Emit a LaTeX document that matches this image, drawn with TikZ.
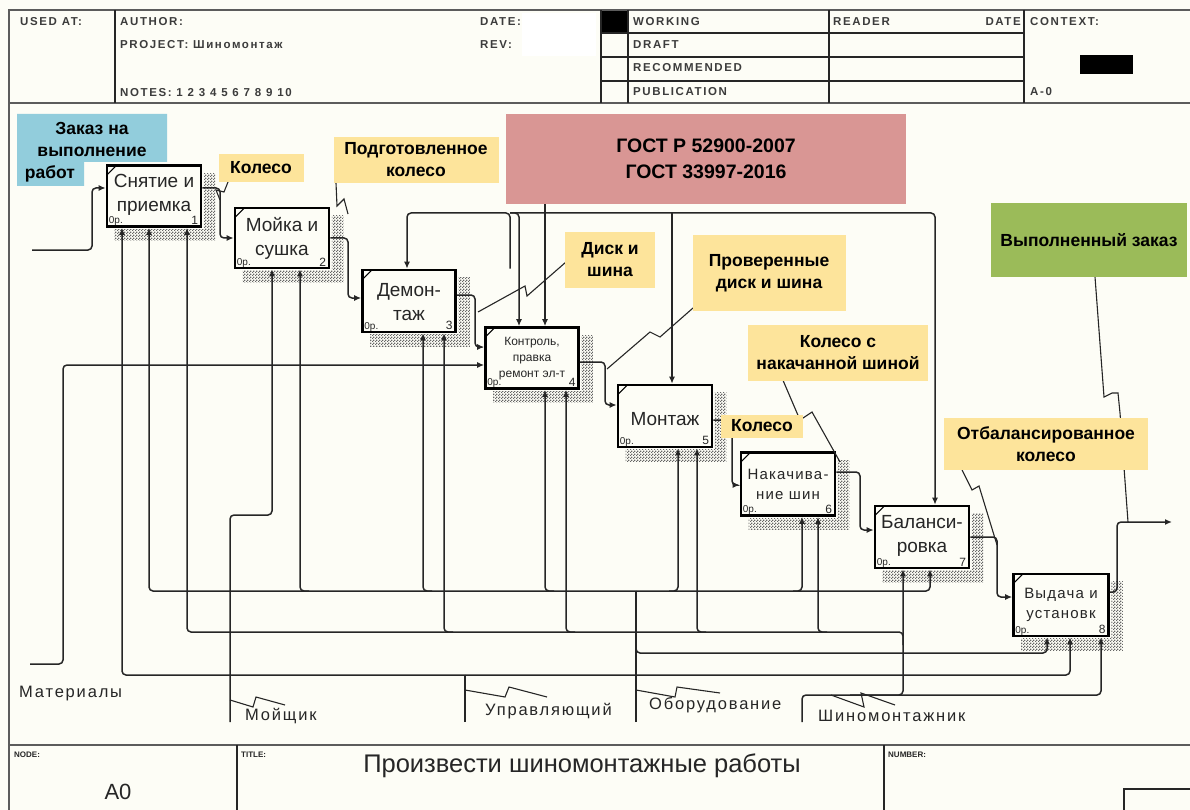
\documentclass[tikz,border=0pt]{standalone}
\usepackage{fontspec}
\setmainfont{Liberation Sans}
\newfontfamily\hdrfont[LetterSpace=14]{Liberation Sans}
\newfontfamily\lblfont[LetterSpace=11]{Liberation Sans}
\newfontfamily\spacedfont[LetterSpace=8]{Liberation Sans}
\usetikzlibrary{arrows.meta,patterns}

% dotted checker used for the box shadows
\pgfdeclarepatternformonly{checkdots}{\pgfqpoint{0pt}{0pt}}{\pgfqpoint{3pt}{3pt}}{\pgfqpoint{3pt}{3pt}}{%
  \pgfpathrectangle{\pgfqpoint{0pt}{0pt}}{\pgfqpoint{1.5pt}{1.5pt}}%
  \pgfpathrectangle{\pgfqpoint{1.5pt}{1.5pt}}{\pgfqpoint{1.5pt}{1.5pt}}%
  \pgfusepath{fill}}

\definecolor{paper}{RGB}{253,253,246}
\definecolor{ink}{RGB}{38,38,38}
\definecolor{noteyellow}{RGB}{253,228,155}
\definecolor{noteblue}{RGB}{146,205,220}
\definecolor{notered}{RGB}{217,150,148}
\definecolor{notegreen}{RGB}{155,187,89}

\tikzset{
  border/.style={draw=ink!75, line width=2pt},
  cell/.style={draw=ink, line width=1.3pt},
  hdr/.style={anchor=west, inner sep=0pt, text=ink!90, font=\hdrfont\bfseries\fontsize{11.5}{13}\selectfont},
  tinyhdr/.style={anchor=north west, inner sep=0pt, text=ink, font=\bfseries\fontsize{8}{9}\selectfont},
  act/.style={draw=black, line width=2.6pt, fill=paper, inner sep=0pt},
  acttext/.style={inner sep=0pt, align=center, text=ink, font=\fontsize{19}{24}\selectfont},
  cost/.style={anchor=south west, inner sep=0pt, text=ink, font=\fontsize{10}{11}\selectfont},
  num/.style={anchor=south east, inner sep=0pt, text=ink, font=\fontsize{12}{12}\selectfont},
  shade/.style={pattern=checkdots, pattern color=black!60},
  flow/.style={draw=ink, line width=1.5pt, rounded corners=4pt},
  arr/.style={flow, -{Latex[length=7pt,width=6pt]}},
  squig/.style={draw=ink, line width=1.1pt},
  note/.style={inner sep=0pt, align=center, text=black, font=\bfseries\fontsize{17.5}{22}\selectfont},
  arrlbl/.style={anchor=west, inner sep=0pt, text=ink, font=\lblfont\fontsize{16.5}{18}\selectfont},
}

\begin{document}
\begin{tikzpicture}[x=1pt,y=-1pt]
\useasboundingbox (0,0) rectangle (1190,810);
\fill[paper] (0,0) rectangle (1190,810);

% ---------- title block ----------
\fill[white] (522,13) rectangle (596,56);
\fill[black] (601,10) rectangle (628,33);
\fill[black] (1080,55) rectangle (1133,74);
\draw[border] (1190,10) -- (9,10) -- (9,810);
\draw[border] (9,103) -- (1190,103);
\draw[cell] (115,10) -- (115,103) (601,10) -- (601,103) (628,10) -- (628,103)
            (829,10) -- (829,103) (1024,10) -- (1024,103);
\draw[cell] (601,33) -- (1024,33) (601,57) -- (1024,57) (601,81) -- (1024,81);

\node[hdr] (usedat) at (20,22) {USED AT:};
\node[hdr] (author) at (120,22) {AUTHOR:};
\node[hdr] (project) at (120,45) {PROJECT: Шиномонтаж};
\node[hdr] (notes) at (120,93) {NOTES: 1 2 3 4 5 6 7 8 9 10};
\node[hdr] (date) at (480,22) {DATE:};
\node[hdr] (rev) at (480,45) {REV:};
\node[hdr] (working) at (633,22) {WORKING};
\node[hdr] (draft) at (633,45) {DRAFT};
\node[hdr] (recom) at (633,68) {RECOMMENDED};
\node[hdr] (publ) at (633,92) {PUBLICATION};
\node[hdr] (reader) at (833,22) {READER};
\node[hdr, anchor=east] (rdate) at (1021,22) {DATE};
\node[hdr] (context) at (1030,22) {CONTEXT:};
\node[hdr] (ctxnode) at (1030,92) {A-0};

% ---------- footer ----------
\draw[border] (9,745) -- (1190,745);
\draw[cell] (237,745) -- (237,810) (884,745) -- (884,810) (1124,810) -- (1124,789) -- (1190,789);
\node[tinyhdr] (nodelbl) at (14,752) {NODE:};
\node[inner sep=0pt, text=ink, font=\fontsize{22}{24}\selectfont] (nodeval) at (118,792) {A0};
\node[tinyhdr] (titlelbl) at (241,752) {TITLE:};
\node[inner sep=0pt, text=ink, font=\fontsize{25.5}{27}\selectfont] (title) at (582,766) {Произвести шиномонтажные работы};
\node[tinyhdr] (numlbl) at (888,752) {NUMBER:};

% ---------- activity boxes ----------
\node[act, minimum width=94pt, minimum height=61pt] (b1) at (154,196) {};
\node[act, minimum width=94pt, minimum height=60pt] (b2) at (282,238) {};
\node[act, minimum width=93pt, minimum height=62pt] (b3) at (409,301) {};
\node[act, minimum width=93pt, minimum height=61pt] (b4) at (532,358) {};
\node[act, minimum width=94pt, minimum height=62pt] (b5) at (665,416) {};
\node[act, minimum width=94pt, minimum height=63pt] (b6) at (788,484) {};
\node[act, minimum width=94pt, minimum height=62pt] (b7) at (922,537) {};
\node[act, minimum width=95pt, minimum height=62pt] (b8) at (1061,605) {};

\node[acttext] (t1) at ([yshift=1pt]b1.center) {Снятие и\\приемка};
\node[acttext] (t2) at ([yshift=0pt]b2.center) {Мойка и\\сушка};
\node[acttext] (t3) at ([yshift=-1pt]b3.center) {Демон-\\таж};
\node[acttext, font=\fontsize{12}{16}\selectfont] (t4) at ([yshift=-1pt]b4.center) {Контроль,\\правка\\ремонт эл-т};
\node[acttext] (t5) at ([yshift=-3pt]b5.center) {Монтаж};
\node[acttext, font=\spacedfont\fontsize{15}{20}\selectfont] (t6) at ([yshift=0pt]b6.center) {Накачива-\\ние шин};
\node[acttext] (t7) at ([yshift=1pt]b7.center) {Баланси-\\ровка};
\node[acttext, font=\spacedfont\fontsize{15}{20}\selectfont] (t8) at ([yshift=0pt]b8.center) {Выдача и\\установк};

\foreach \b/\n in {b1/1,b2/2,b3/3,b4/4,b5/5,b6/6,b7/7,b8/8}{
  \node[cost] (c\n) at ([shift={(3,-2)}]\b.south west) {0р.};
  \node[num] (n\n) at ([shift={(-4,-3)}]\b.south east) {\n};
  \draw[black, line width=1pt] ([shift={(2,10)}]\b.north west) -- ([shift={(10,2)}]\b.north west);
  \fill[shade] ([shift={(1.5,9)}]\b.north east) rectangle ([shift={(13,13)}]\b.south east);
  \fill[shade] ([shift={(9,1.5)}]\b.south west) rectangle ([shift={(1.5,13)}]\b.south east);
}

% ---------- free ends on the border ----------
\coordinate (inOrder) at (32,250);
\coordinate (inMat) at (30,664);
\coordinate (mWasher) at (230,722);
\coordinate (mManager) at (465,722);
\coordinate (mEquip) at (636,722);
\coordinate (mFitter) at (802,722);
\coordinate (outDone) at (1172,522);

% ---------- inputs and outputs ----------
\draw[arr] (inOrder) -- (92,250) -- (92,188) -- (b1.west |- 0,188);
\draw[arr] (b1.east |- 0,188) -- (220,188) -- (220,238) -- (b2.west |- 0,238);
\draw[arr] (b2.east |- 0,238) -- (348,238) -- (348,298) -- (b3.west |- 0,298);
\draw[arr] (b3.east |- 0,295) -- (475,295) -- (475,347) -- (b4.west |- 0,347);
\draw[arr] (inMat) -- (63,664) -- (63,365) -- (b4.west |- 0,365);
\draw[arr] (b4.east |- 0,362) -- (605,362) -- (605,405) -- (b5.west |- 0,405);
\draw[arr] (b5.east |- 0,420) -- (732,420) -- (732,485) -- (b6.west |- 0,485);
\draw[arr] (b6.east |- 0,472) -- (860,472) -- (860,530) -- (b7.west |- 0,530);
\draw[arr] (b7.east |- 0,537) -- (997,537) -- (997,597) -- (b8.west |- 0,597);
\draw[arr] (b8.east |- 0,592) -- (1117,592) -- (1117,522) -- (outDone);

% ---------- controls ----------
\coordinate (cj) at (510,213);
\draw[arr] (b3.north -| 510,204) -- (cj) -- (407,213) -- (b3.north -| 407,0);
\draw[arr] (cj) -- (519,213) -- (b4.north -| 519,0);
\draw[arr] (cj) -- (935,213) -- (b7.north -| 935,0);
\draw[arr] (672,213) -- (b5.north -| 672,0);
\draw[arr] (545,204) -- (b4.north -| 545,0);

% ---------- mechanisms ----------
\draw[arr] (mWasher) -- (230,515) -- (272,515) -- (b2.south -| 272,0);

\draw[flow] (mManager) -- (465,675);
\draw[arr] (465,675) -- (122,675) -- (b1.south -| 122,0);
\draw[arr] (465,675) -- (1070,675) -- (b8.south -| 1070,0);

\draw[flow] (mEquip) -- (636,591);
\draw[arr] (636,591) -- (149,591) -- (b1.south -| 149,0);
\draw[arr] (636,591) -- (930,591) -- (b7.south -| 930,0);
\foreach \x/\b in {300/b2,423/b3,545/b4}
  \draw[arr] (\x+9,591) -- (\x,591) -- (\b.south -| \x,0);
\foreach \x/\b in {678/b5,802/b6}
  \draw[arr] (\x-9,591) -- (\x,591) -- (\b.south -| \x,0);
\draw[arr] (636,640) -- (636,653) -- (1047,653) -- (b8.south -| 1047,0);

\draw[arr] (mFitter) -- (802,695) -- (903,695) -- (b7.south -| 903,0);
\draw[arr] (850,695) -- (1101,695) -- (b8.south -| 1101,0);
\draw[arr] (903,645) -- (903,632) -- (187,632) -- (b1.south -| 187,0);
\foreach \x/\b in {444/b3,566/b4,697/b5,818/b6}
  \draw[arr] (\x+9,632) -- (\x,632) -- (\b.south -| \x,0);

% ---------- label squiggles ----------
\draw[squig] (220,200) -- (216,190) -- (224,192) -- (228,182);
\draw[squig] (336,183) -- (337,206) -- (344,199) -- (348,214);
\draw[squig] (478,312) -- (525,286) -- (527,296) -- (566,262);
\draw[squig] (607,369) -- (650,332) -- (660,337) -- (693,308);
\draw[squig] (782,378) -- (800,420) -- (812,412) -- (840,462);
\draw[squig] (962,470) -- (972,490) -- (979,486) -- (997,545);
\draw[squig] (1095,277) -- (1104,397) -- (1112,393) -- (1118,393) -- (1120,413) -- (1128,522);
\draw[squig] (230,700) -- (253,707) -- (256,697) -- (285,705);
\draw[squig] (465,690) -- (505,697) -- (509,687) -- (547,697);
\draw[squig] (636,690) -- (675,697) -- (677,687) -- (720,693);
\draw[squig] (831,695) -- (864,707) -- (861,693) -- (895,705);

% ---------- arrow labels ----------
\node[arrlbl] (lMat) at (19,694) {Материалы};
\node[arrlbl] (lWasher) at (245,716) {Мойщик};
\node[arrlbl] (lManager) at (485,711) {Управляющий};
\node[arrlbl] (lEquip) at (649,705) {Оборудование};
\node[arrlbl] (lFitter) at (818,716) {Шиномонтажник};

% ---------- callouts ----------
\fill[noteblue] (17,114) -- (167,114) -- (167,162) -- (84,162) -- (84,186) -- (17,186) -- cycle;
\node[note] (zak) at (92,139) {Заказ на\\выполнение};
\node[note] (zak2) at (50,174) {работ};
\node[note, fill=noteyellow, minimum width=85pt, minimum height=28pt] (kol1) at (261,168) {Колесо};
\node[note, fill=noteyellow, minimum width=165pt, minimum height=46pt] (podg) at (416,160) {Подготовленное\\колесо};
\node[note, fill=notered, minimum width=400pt, minimum height=90pt, font=\bfseries\fontsize{19.5}{26}\selectfont] (gost) at (706,159) {ГОСТ Р 52900-2007\\ГОСТ 33997-2016};
\node[note, fill=noteyellow, minimum width=90pt, minimum height=55pt] (disk) at (610,260) {Диск и\\шина};
\node[note, fill=noteyellow, minimum width=153pt, minimum height=75pt] (prov) at (769,273) {Проверенные\\диск и шина};
\node[note, fill=noteyellow, minimum width=180pt, minimum height=56pt] (kolnak) at (838,353) {Колесо с\\накачанной шиной};
\node[note, fill=noteyellow, minimum width=82pt, minimum height=23pt] (kol2) at (762,426) {Колесо};
\node[note, fill=noteyellow, minimum width=204pt, minimum height=52pt] (otbal) at (1046,444) {Отбалансированное\\колесо};
\node[note, fill=notegreen, minimum width=196pt, minimum height=74pt] (vyp) at (1089,240) {Выполненный заказ};
\end{tikzpicture}
\end{document}
